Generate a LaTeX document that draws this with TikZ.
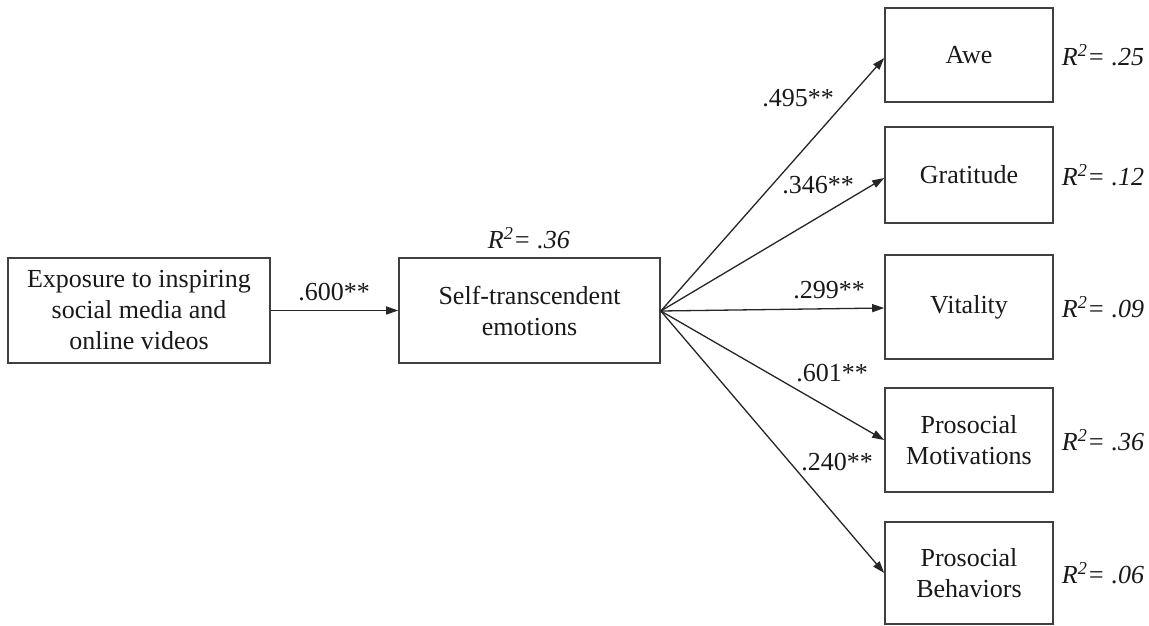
\documentclass[tikz,border=0pt]{standalone}
\usepackage{fontspec}
\setmainfont{Liberation Serif}
\usetikzlibrary{arrows.meta,calc}
\begin{document}
\begin{tikzpicture}[x=1pt,y=-1pt,
  every node/.style={font=\fontsize{26}{31}\selectfont, text=black!90},
  box/.style={draw=black!75, line width=1.6pt, rectangle, inner sep=0pt, align=center},
  leftbox/.style={box, minimum width=262pt, minimum height=105pt},
  rbox/.style={box, minimum width=168pt},
  conn/.style={draw=black!85, line width=1.3pt, -{Triangle[length=12pt,width=8pt]}},
  coef/.style={inner sep=0pt},
  rsq/.style={inner sep=0pt, font=\fontsize{26}{31}\selectfont\itshape}
]
\useasboundingbox (0,0) rectangle (1149,626);
\fill[white] (0,0) rectangle (1149,626);

\node[leftbox] (expo) at (139,310.5) {Exposure to inspiring\\social media and\\online videos};
\node[leftbox, minimum width=261pt] (ste) at (529.5,310.5) {Self-transcendent\\emotions};

\node[rbox, minimum height=94pt] (awe) at (969,55) {Awe};
\node[rbox, minimum height=96pt] (grat) at (969,175) {Gratitude};
\node[rbox, minimum height=104pt] (vit) at (969,307) {Vitality};
\node[rbox, minimum height=104pt] (pmot) at (969,440) {Prosocial\\Motivations};
\node[rbox, minimum height=102pt] (pbeh) at (969,573) {Prosocial\\Behaviors};

\coordinate (hub) at ($(ste.east)+(0,0.5)$);

\draw[conn] (expo.east) -- (ste.west);
\draw[conn] (hub) -- ($(awe.west)+(0,3)$);
\draw[conn] (hub) -- ($(grat.west)+(0,3)$);
\draw[conn] (hub) -- ($(vit.west)+(0,1)$);
\draw[conn] (hub) -- (pmot.west);
\draw[conn] (hub) -- (pbeh.west);

\node[coef] (c0) at (334,292) {.600**};
\node[coef] (c1) at (798,98) {.495**};
\node[coef] (c2) at (818,185) {.346**};
\node[coef] (c3) at (829,290) {.299**};
\node[coef] (c4) at (832,373) {.601**};
\node[coef] (c5) at (837,462) {.240**};

\node[rsq] (r0) at (529,238) {R\textsuperscript{2}= .36};
\node[rsq] (r1) at (1103,55) {R\textsuperscript{2}= .25};
\node[rsq] (r2) at (1103,175) {R\textsuperscript{2}= .12};
\node[rsq] (r3) at (1103,307) {R\textsuperscript{2}= .09};
\node[rsq] (r4) at (1103,440) {R\textsuperscript{2}= .36};
\node[rsq] (r5) at (1103,573) {R\textsuperscript{2}= .06};
\end{tikzpicture}
\end{document}
